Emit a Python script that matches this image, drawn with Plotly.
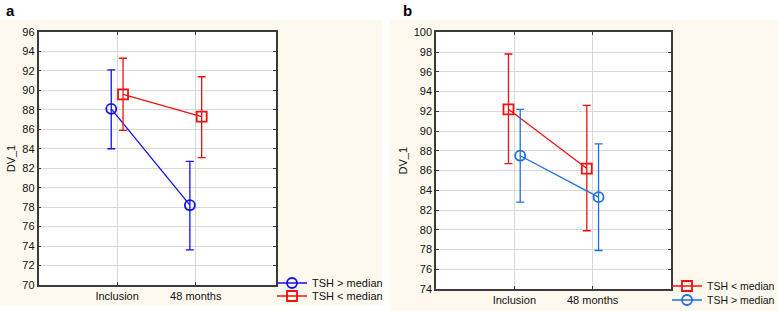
import plotly.graph_objects as go

categories = ["Inclusion", "48 months"]

# Panel a
a_above_mean = [88.1, 78.2]
a_above_hi = [92.1, 82.7]
a_above_lo = [84.0, 73.6]
a_below_mean = [89.6, 87.3]
a_below_hi = [93.3, 91.4]
a_below_lo = [85.9, 83.1]

# Panel b
b_below_mean = [92.2, 86.2]
b_below_hi = [97.8, 92.6]
b_below_lo = [86.7, 79.9]
b_above_mean = [87.5, 83.3]
b_above_hi = [92.2, 88.7]
b_above_lo = [82.8, 77.9]

a_yticks = list(range(70, 97, 2))
b_yticks = list(range(74, 101, 2))

W, H = 778, 311
BLUE_A = "#1010F0"
RED = "#F01010"
BLUE_B = "#1E6FE0"
CREAM = "#FDF9EE"
FONT = "Liberation Sans, Arial, sans-serif"

OFF = 0.075


def trace(mean, hi, lo, offset, color, symbol, name, xa, ya, legend):
    xs = [i + offset for i in range(len(mean))]
    return go.Scatter(
        x=xs, y=mean, mode="lines+markers", name=name,
        xaxis=xa, yaxis=ya, legend=legend, showlegend=True,
        line=dict(color=color, width=1.3),
        marker=dict(symbol=symbol, size=10, color=color,
                    line=dict(color=color, width=1.8)),
        error_y=dict(type="data", symmetric=False,
                     array=[h - m for h, m in zip(hi, mean)],
                     arrayminus=[m - l for m, l in zip(mean, lo)],
                     color=color, thickness=1.3, width=4),
    )


fig = go.Figure()
fig.add_trace(trace(a_above_mean, a_above_hi, a_above_lo, -OFF, BLUE_A, "circle-open", "TSH > median", "x", "y", "legend"))
fig.add_trace(trace(a_below_mean, a_below_hi, a_below_lo, OFF, RED, "square-open", "TSH < median", "x", "y", "legend2"))
fig.add_trace(trace(b_below_mean, b_below_hi, b_below_lo, -OFF, RED, "square-open", "TSH < median", "x2", "y2", "legend3"))
fig.add_trace(trace(b_above_mean, b_above_hi, b_above_lo, OFF, BLUE_B, "circle-open", "TSH > median", "x2", "y2", "legend4"))

axis_common = dict(
    showline=True, mirror="ticks", linecolor="#3a3a3a", linewidth=1.5,
    ticks="inside", ticklen=3, tickcolor="#3a3a3a",
    showgrid=True, gridcolor="#d9d9d9", gridwidth=1, zeroline=False,
    automargin=False,
    tickfont=dict(family=FONT, size=11, color="#111"),
)


def px_x(v):
    return v / W


def px_y(v):
    return 1 - v / H


def leg(x, y, size):
    return dict(x=px_x(x), y=px_y(y), xanchor="left", yanchor="middle",
                bgcolor="rgba(0,0,0,0)", font=dict(size=size), itemwidth=30)


fig.update_layout(
    width=W, height=H, margin=dict(l=0, r=0, t=0, b=0, autoexpand=False),
    paper_bgcolor="white", plot_bgcolor="white", showlegend=True,
    font=dict(family=FONT, size=11, color="#111"),
    xaxis=dict(domain=[px_x(38.5), px_x(276)], range=[-1, 2.02], tickvals=[0, 1],
               ticktext=categories, anchor="y", ticklabelstandoff=0, **axis_common),
    yaxis=dict(domain=[px_y(285), px_y(32)], range=[70, 96], tickvals=a_yticks,
               anchor="x", title=dict(text="DV_1", standoff=4, font=dict(size=11)), **axis_common),
    xaxis2=dict(domain=[px_x(436), px_x(671)], range=[-1, 2.0], tickvals=[0, 1],
                ticktext=categories, anchor="y2", ticklabelstandoff=0, **axis_common),
    yaxis2=dict(domain=[px_y(289), px_y(32.3)], range=[74, 100], tickvals=b_yticks,
                anchor="x2", title=dict(text="DV_1", standoff=4, font=dict(size=11)), **axis_common),
    legend=leg(272, 283, 11),
    legend2=leg(272, 296, 11),
    legend3=leg(667, 286, 10.5),
    legend4=leg(667, 300, 10.5),
    shapes=[
        dict(type="rect", xref="paper", yref="paper", x0=0, x1=px_x(382),
             y0=px_y(305), y1=px_y(20), fillcolor=CREAM, line=dict(width=0), layer="below"),
        dict(type="rect", xref="paper", yref="paper", x0=px_x(390), x1=1,
             y0=0, y1=px_y(20), fillcolor=CREAM, line=dict(width=0), layer="below"),
        dict(type="rect", xref="x domain", yref="y domain", x0=0, x1=1, y0=0, y1=1,
             fillcolor="white", line=dict(width=0), layer="below"),
        dict(type="rect", xref="x2 domain", yref="y2 domain", x0=0, x1=1, y0=0, y1=1,
             fillcolor="white", line=dict(width=0), layer="below"),
    ],
    annotations=[
        dict(text="<b>a</b>", x=px_x(4), y=px_y(10), xref="paper", yref="paper",
             xanchor="left", yanchor="middle", showarrow=False, font=dict(size=15, color="black")),
        dict(text="<b>b</b>", x=px_x(401), y=px_y(10), xref="paper", yref="paper",
             xanchor="left", yanchor="middle", showarrow=False, font=dict(size=15, color="black")),
    ],
)

fig.write_html("out.html", config={"displayModeBar": False},
               post_script="document.body.style.margin='0';")
